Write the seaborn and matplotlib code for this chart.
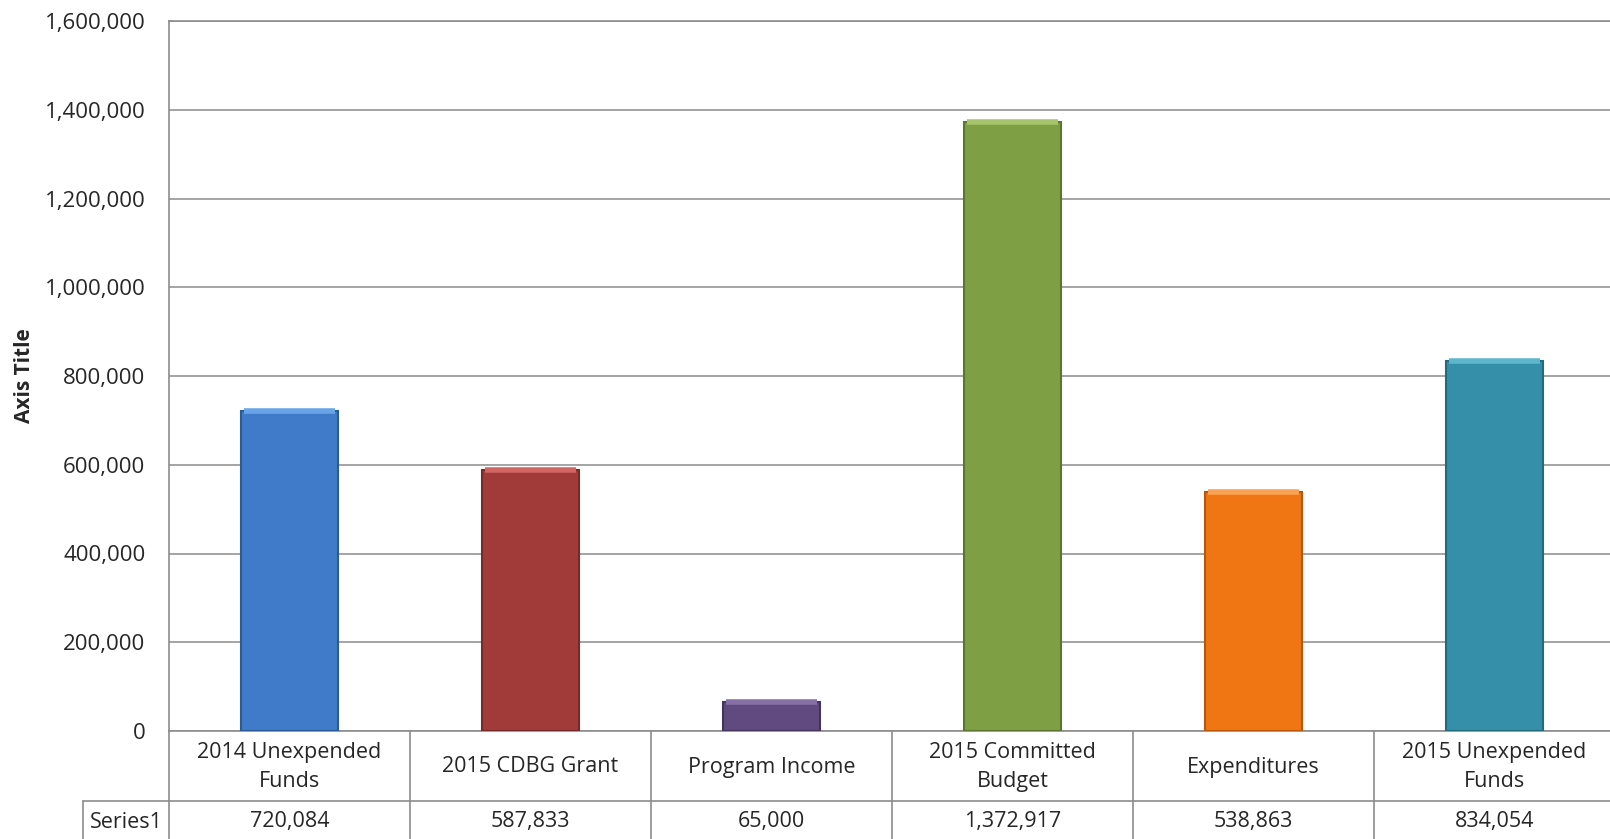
import pandas as pd
import seaborn as sns
import matplotlib.pyplot as plt
from matplotlib.ticker import FuncFormatter
from matplotlib.transforms import blended_transform_factory

categories = ['2014 Unexpended\nFunds', '2015 CDBG Grant', 'Program Income',
              '2015 Committed\nBudget', 'Expenditures', '2015 Unexpended\nFunds']
values = [720084, 587833, 65000, 1372917, 538863, 834054]
colors = ['#3F7BC8', '#A03B39', '#604A80', '#7F9F44', '#F07614', '#358FA8']
edge_colors = ['#2C5A94', '#75292A', '#44345C', '#5C7530', '#B8560C', '#256A7C']
top_colors = ['#6AA4E8', '#D06563', '#8670A6', '#A6C46C', '#F9A253', '#5EB6CC']
series_name = 'Series1'
y_ticks = list(range(0, 1600001, 200000))

W, H = 1610, 839
sns.set_style('white')
plt.rcParams['font.family'] = ['Open Sans', 'DejaVu Sans']

fig = plt.figure(figsize=(W / 100, H / 100), dpi=100)
ax = fig.add_axes([169 / W, (H - 731) / H, 6 * 241 / W, (731 - 21) / H])

df = pd.DataFrame({'cat': categories, 'val': values})
sns.barplot(data=df, x='cat', y='val', hue='cat', palette=colors, legend=False,
            width=0.4, ax=ax, saturation=1, zorder=3)
for patch, ec, tc in zip(ax.patches, edge_colors, top_colors):
    patch.set_edgecolor(ec)
    patch.set_linewidth(1.5)
    x0 = patch.get_x()
    x1 = x0 + patch.get_width()
    top = patch.get_height()
    ax.plot([x0 + 0.01, x1 - 0.01], [top, top], color=tc, linewidth=4,
            solid_capstyle='butt', zorder=4)

ax.set_xlim(-0.5, len(categories) - 0.5)
ax.set_ylim(0, 1600000)
ax.set_yticks(y_ticks)
ax.yaxis.set_major_formatter(FuncFormatter(lambda v, p: f'{int(v):,}'))
ax.tick_params(axis='y', labelsize=16, length=0, pad=17)
ax.set_xticks([])
ax.set_xlabel('')
ax.set_ylabel('Axis Title', fontsize=15, fontweight='bold')
ax.yaxis.set_label_coords(-0.093, 0.5)
ax.grid(axis='y', color='#8C8C8C', linewidth=1.1, zorder=0)
for side in ['top', 'left', 'bottom']:
    ax.spines[side].set_color('#8C8C8C')
    ax.spines[side].set_linewidth(1.2)
ax.spines['right'].set_visible(False)

# data table below the axis
trans = blended_transform_factory(ax.transData, fig.transFigure)
def fy(py):
    return (H - py) / H

line_kw = dict(color='#8C8C8C', linewidth=1.2, transform=trans, clip_on=False)
for i in range(len(categories) + 1):
    x = i - 0.5
    ax.plot([x, x], [fy(731), fy(H + 5)], **line_kw)
ax.plot([-0.5, len(categories)], [fy(801), fy(801)], **line_kw)
for i, (c, v) in enumerate(zip(categories, values)):
    ax.text(i, fy(767), c, transform=trans, ha='center', va='center',
            fontsize=15.5, linespacing=1.55)
    ax.text(i, fy(822), f'{v:,}', transform=trans, ha='center', va='center',
            fontsize=15.5)

# series header cell
fig.lines.append(plt.Line2D([83 / W, 169 / W], [fy(801), fy(801)], color='#8C8C8C',
                            linewidth=1.2, transform=fig.transFigure))
fig.lines.append(plt.Line2D([83 / W, 83 / W], [fy(801), fy(H + 5)], color='#8C8C8C',
                            linewidth=1.2, transform=fig.transFigure))
fig.text(126 / W, fy(822), series_name, ha='center', va='center', fontsize=15.5)

fig.savefig('out.png', dpi=100)
